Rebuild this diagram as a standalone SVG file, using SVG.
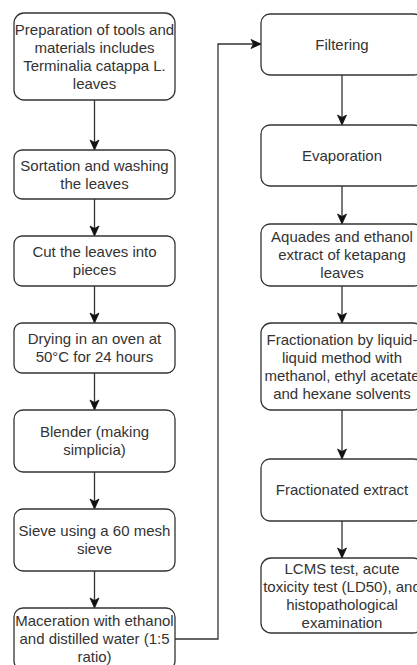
<svg xmlns="http://www.w3.org/2000/svg" width="417" height="665" viewBox="0 0 417 665">
<style>
.box{fill:#ffffff;stroke:#333333;stroke-width:1.3}
.t{font-family:"Liberation Sans",Arial,sans-serif;font-size:15px;fill:#333333;text-anchor:middle}
.c{fill:none;stroke:#333333;stroke-width:1.3}
</style>
<defs>
<marker id="ah" markerUnits="userSpaceOnUse" markerWidth="12" markerHeight="12" viewBox="0 0 12 12" refX="11" refY="6" orient="auto">
<path d="M1,1.5 L11,6 L1,10.5 L3.5,6 Z" fill="#111111" stroke="#111111" stroke-width="0.8"/>
</marker>
</defs>
<rect width="417" height="665" fill="#ffffff"/>
<g id="connectors">
<path class="c" d="M94.5,100 V150" marker-end="url(#ah)"/>
<path class="c" d="M94.5,199 V236" marker-end="url(#ah)"/>
<path class="c" d="M94.5,286 V323" marker-end="url(#ah)"/>
<path class="c" d="M94.5,373 V410" marker-end="url(#ah)"/>
<path class="c" d="M94.5,472 V509" marker-end="url(#ah)"/>
<path class="c" d="M94.5,571 V608" marker-end="url(#ah)"/>
<path class="c" d="M175,639 H218 V44 H261" marker-end="url(#ah)"/>
<path class="c" d="M342,75 V125" marker-end="url(#ah)"/>
<path class="c" d="M342,186 V224" marker-end="url(#ah)"/>
<path class="c" d="M342,286 V323" marker-end="url(#ah)"/>
<path class="c" d="M342,410 V459" marker-end="url(#ah)"/>
<path class="c" d="M342,521 V558" marker-end="url(#ah)"/>
</g>
<g id="n1"><rect class="box" x="14" y="13" width="161" height="87" rx="10"/>
<text class="t" x="94.5" y="35">Preparation of tools and</text>
<text class="t" x="94.5" y="53">materials includes</text>
<text class="t" x="94.5" y="71">Terminalia catappa L.</text>
<text class="t" x="94.5" y="89">leaves</text></g>
<g id="n2"><rect class="box" x="14" y="150" width="161" height="49" rx="8"/>
<text class="t" x="94.5" y="171">Sortation and washing</text>
<text class="t" x="94.5" y="189">the leaves</text></g>
<g id="n3"><rect class="box" x="14" y="236" width="161" height="50" rx="8"/>
<text class="t" x="94.5" y="257">Cut the leaves into</text>
<text class="t" x="94.5" y="275">pieces</text></g>
<g id="n4"><rect class="box" x="14" y="323" width="161" height="50" rx="8"/>
<text class="t" x="94.5" y="344">Drying in an oven at</text>
<text class="t" x="94.5" y="362">50°C for 24 hours</text></g>
<g id="n5"><rect class="box" x="14" y="410" width="161" height="62" rx="9"/>
<text class="t" x="94.5" y="437">Blender (making</text>
<text class="t" x="94.5" y="455">simplicia)</text></g>
<g id="n6"><rect class="box" x="14" y="509" width="161" height="62" rx="9"/>
<text class="t" x="94.5" y="536">Sieve using a 60 mesh</text>
<text class="t" x="94.5" y="554">sieve</text></g>
<g id="n7"><rect class="box" x="14" y="608" width="161" height="62" rx="9"/>
<text class="t" x="94.5" y="626">Maceration with ethanol</text>
<text class="t" x="94.5" y="644">and distilled water (1:5</text>
<text class="t" x="94.5" y="662">ratio)</text></g>
<g id="n8"><rect class="box" x="261" y="14" width="162" height="61" rx="9"/>
<text class="t" x="342" y="49.5">Filtering</text></g>
<g id="n9"><rect class="box" x="261" y="125" width="162" height="61" rx="9"/>
<text class="t" x="342" y="160.5">Evaporation</text></g>
<g id="n10"><rect class="box" x="261" y="224" width="162" height="62" rx="9"/>
<text class="t" x="342" y="242">Aquades and ethanol</text>
<text class="t" x="342" y="260">extract of ketapang</text>
<text class="t" x="342" y="278">leaves</text></g>
<g id="n11"><rect class="box" x="261" y="323" width="162" height="87" rx="10"/>
<text class="t" x="342" y="344.5">Fractionation by liquid-</text>
<text class="t" x="342" y="362.5">liquid method with</text>
<text class="t" x="342" y="380.5">methanol, ethyl acetate</text>
<text class="t" x="342" y="398.5">and hexane solvents</text></g>
<g id="n12"><rect class="box" x="261" y="459" width="162" height="62" rx="9"/>
<text class="t" x="342" y="495">Fractionated extract</text></g>
<g id="n13"><rect class="box" x="261" y="558" width="162" height="75" rx="10"/>
<text class="t" x="342" y="574">LCMS test, acute</text>
<text class="t" x="342" y="592">toxicity test (LD50), and</text>
<text class="t" x="342" y="610">histopathological</text>
<text class="t" x="342" y="628">examination</text></g>
</svg>
